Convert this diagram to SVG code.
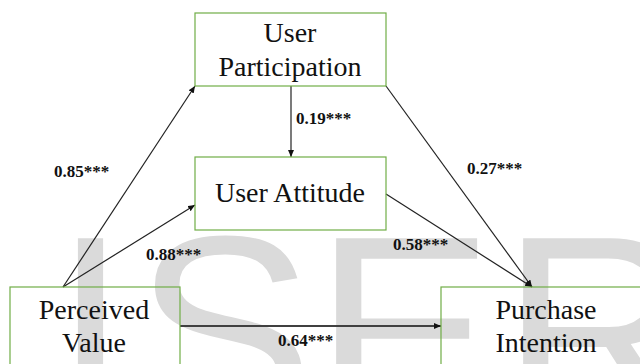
<svg xmlns="http://www.w3.org/2000/svg" width="640" height="364" viewBox="0 0 640 364">
<style>
.box{fill:none;stroke:#70ad47;stroke-width:1.2}
.nt{font-family:"Liberation Serif","Times New Roman",serif;font-size:28px;fill:#111;text-anchor:middle}
.lb{font-family:"Liberation Serif","Times New Roman",serif;font-size:17px;font-weight:bold;fill:#111}
.ln{stroke:#222;stroke-width:1.2;fill:none;marker-end:url(#ah)}
.wm{font-family:"Liberation Sans",Arial,sans-serif;font-size:270px;fill:#dadada}
</style>
<defs>
<marker id="ah" markerUnits="userSpaceOnUse" markerWidth="8" markerHeight="8" refX="7" refY="3" orient="auto">
<path d="M0,0 L7,3 L0,6 Z" fill="#111"/>
</marker>
</defs>
<rect width="640" height="364" fill="#fff"/>
<text class="wm" x="53 134 314 501" y="424">ISER</text>
<g id="connectors">
<line class="ln" x1="63" y1="287" x2="195" y2="86"/>
<line class="ln" x1="63" y1="287" x2="195" y2="205"/>
<line class="ln" x1="291" y1="86" x2="291" y2="157"/>
<line class="ln" x1="386" y1="86" x2="532" y2="287"/>
<line class="ln" x1="386" y1="194" x2="532" y2="287"/>
<line class="ln" x1="180" y1="326" x2="441" y2="326" style="stroke:#404040;stroke-width:2"/>
<text class="lb" x="54" y="177">0.85***</text>
<text class="lb" x="296" y="124">0.19***</text>
<text class="lb" x="467" y="174">0.27***</text>
<text class="lb" x="146" y="260">0.88***</text>
<text class="lb" x="393" y="250">0.58***</text>
<text class="lb" x="278" y="346">0.64***</text>
</g>
<g id="user-participation">
<rect class="box" x="195" y="13" width="191" height="73"/>
<text class="nt" x="290" y="42">User</text>
<text class="nt" x="290" y="76">Participation</text>
</g>
<g id="user-attitude">
<rect class="box" x="195" y="157" width="191" height="73"/>
<text class="nt" x="290" y="202">User Attitude</text>
</g>
<g id="perceived-value">
<rect class="box" x="10" y="287" width="170" height="90"/>
<text class="nt" x="94" y="319">Perceived</text>
<text class="nt" x="94" y="352">Value</text>
</g>
<g id="purchase-intention">
<rect class="box" x="441" y="287" width="210" height="90"/>
<text class="nt" x="546" y="319">Purchase</text>
<text class="nt" x="546" y="352">Intention</text>
</g>
</svg>
